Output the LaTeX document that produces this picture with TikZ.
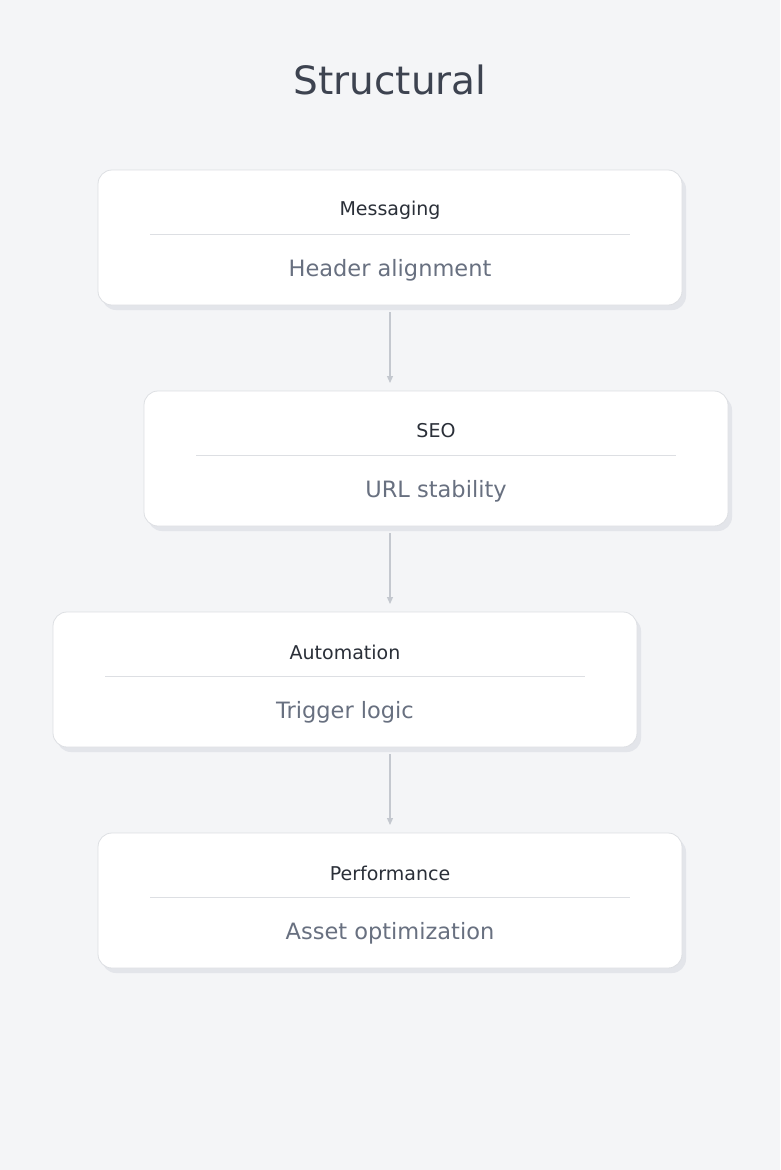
\documentclass[tikz,border=0pt]{standalone}
\usepackage{fontspec}
\setmainfont{DejaVu Sans}
\usetikzlibrary{positioning,arrows.meta}
\definecolor{bgc}{HTML}{F4F5F7}
\definecolor{edgec}{HTML}{DDDFE3}
\definecolor{shadowc}{HTML}{E3E5EA}
\definecolor{titlec}{HTML}{3D4350}
\definecolor{headc}{HTML}{2A2F38}
\definecolor{subc}{HTML}{687080}
\definecolor{arrowc}{HTML}{C4C8CF}
\tikzset{
  card/.style={draw=edgec, fill=white, rounded corners=14pt, minimum width=584pt, minimum height=135pt, line width=0.8pt},
  cardshadow/.style={fill=shadowc, rounded corners=14pt, minimum width=584pt, minimum height=135pt},
  head/.style={font=\fontsize{19}{22}\selectfont, text=headc},
  sub/.style={font=\fontsize{22.5}{26}\selectfont, text=subc},
  flow/.style={draw=arrowc, line width=1.2pt, -{Triangle[length=7pt,width=6pt]}}
}
\begin{document}
\begin{tikzpicture}[x=1pt,y=1pt]
\fill[bgc] (0,0) rectangle (780,-1170);
\useasboundingbox (0,0) rectangle (780,-1170);
\node[font=\fontsize{39}{46}\selectfont, text=titlec] (title) at (390,-80) {Structural};
% cards
\foreach \n/\cx/\cy/\h/\s in {m/390/237.5/Messaging/Header alignment,
                              e/436/458.5/SEO/URL stability,
                              a/345/679.5/Automation/Trigger logic,
                              p/390/900.5/Performance/Asset optimization}{
  \node[cardshadow] at (\cx+4,-\cy-5) {};
  \node[card] (\n) at (\cx,-\cy) {};
  \node[head] (\n h) at (\cx,-\cy+27.5) {\h};
  \node[sub] (\n s) at (\cx,-\cy-33) {\s};
  \draw[edgec, line width=0.8pt] (\cx-240,-\cy+3.5) -- (\cx+240,-\cy+3.5);
}
% connectors
\coordinate (m1) at (390,-312); \coordinate (e0) at (390,-383);
\coordinate (e1) at (390,-533); \coordinate (a0) at (390,-604);
\coordinate (a1) at (390,-754); \coordinate (p0) at (390,-825);
\draw[flow] (m1) -- (e0);
\draw[flow] (e1) -- (a0);
\draw[flow] (a1) -- (p0);
\end{tikzpicture}
\end{document}
